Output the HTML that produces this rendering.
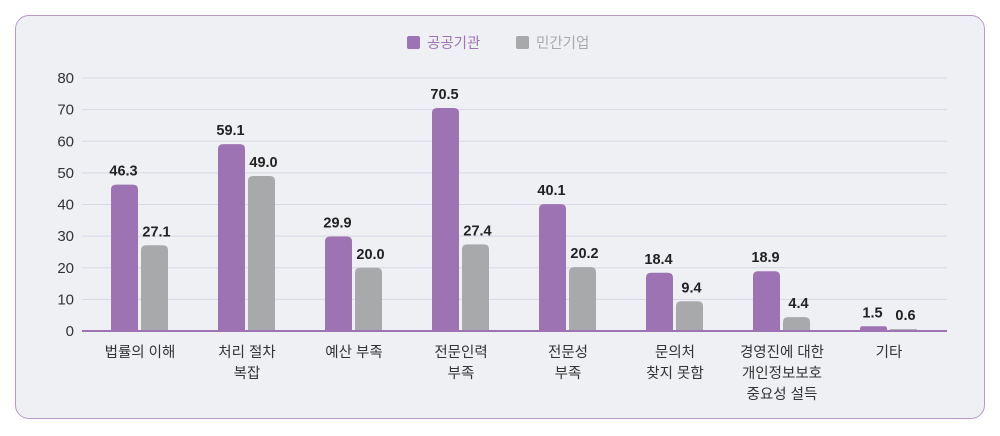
<!DOCTYPE html>
<html><head><meta charset="utf-8"><style>
body{margin:0;background:#fff;width:1000px;height:436px;overflow:hidden;font-family:"Liberation Sans","Noto Sans CJK KR",sans-serif}
#frame{position:absolute;left:15px;top:15px;width:968px;height:402px;border:1.5px solid #b79bc8;border-radius:14px;background:#eff0f4}
svg{position:absolute;left:0;top:0}
</style></head><body>
<div id="frame"></div>
<svg id="chart" width="1000" height="436"></svg>
<script>
const categories=[["법률의 이해"],["처리 절차","복잡"],["예산 부족"],["전문인력","부족"],["전문성","부족"],["문의처","찾지 못함"],["경영진에 대한","개인정보보호","중요성 설득"],["기타"]];
const publicVals=[46.3,59.1,29.9,70.5,40.1,18.4,18.9,1.5];
const privateVals=[27.1,49.0,20.0,27.4,20.2,9.4,4.4,0.6];
const yTicks=[0,10,20,30,40,50,60,70,80];
const seriesNames=["공공기관","민간기업"];
const colors=["#9e73b3","#a8a9ab"];
const svg=document.getElementById('chart');const NS="http://www.w3.org/2000/svg";
const x0=86,gw=107,y0=331,yTop=78,yMax=80;
const y=v=>y0-(v/yMax)*(y0-yTop);
function mk(t,a,txt){const e=document.createElementNS(NS,t);for(const k in a)e.setAttribute(k,a[k]);if(txt!=null)e.textContent=txt;svg.appendChild(e);return e;}
yTicks.forEach(t=>{
 if(t>0){const g=mk('line',{x1:82,x2:947,y1:y(t),y2:y(t),stroke:'#d8d8e4','stroke-width':1});
 
 }
 const l=mk('text',{x:74,y:y(t)+5,'text-anchor':'end','font-size':15,fill:'#333'},t);
 
 
});
[publicVals,privateVals].forEach((arr,s)=>{
 arr.forEach((v,i)=>{
  const bx=x0+gw*i+25+s*30,bw=27,top=y(v),h=y0-top,r=Math.min(5,h/2);
  const p=mk('path',{d:`M${bx},${y0} V${top+r} Q${bx},${top} ${bx+r},${top} H${bx+bw-r} Q${bx+bw},${top} ${bx+bw},${top+r} V${y0} Z`,fill:colors[s]});
  
  
  const t=mk('text',{x:bx+bw/2+(s?2:-1),y:top-9,'text-anchor':'middle','font-size':14.5,'font-weight':'bold',fill:'#222'},v.toFixed(1));
  
  
 });
});
const ax=mk('line',{x1:82,x2:947,y1:y0,y2:y0,stroke:'#9e73b3','stroke-width':2});


categories.forEach((lines,i)=>{
 lines.forEach((ln,j)=>{
  const t=mk('text',{x:x0+gw*i+54,y:357+j*21,'text-anchor':'middle','font-size':14.5,fill:'#333'},ln);
  
  
 });
});
seriesNames.forEach((n,s)=>{
 const lx=[407,516][s];
 const r=mk('rect',{x:lx,y:36,width:13,height:13,rx:2,fill:colors[s]});
 
 
 const t=mk('text',{x:lx+20,y:48,'font-size':14.5,fill:colors[s]},n);
 
 
});
</script>
</body></html>
